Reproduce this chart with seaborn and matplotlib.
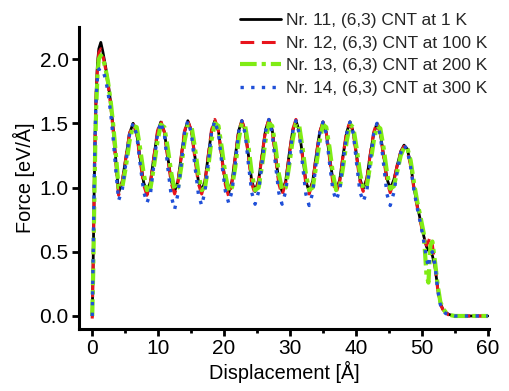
import pandas as pd
import seaborn as sns
import matplotlib as mpl
import matplotlib.pyplot as plt
import numpy as np
mpl.use('Agg')


# displacement grid [Å], shared by all four runs
disp = [
    0.0, 0.15, 0.3, 0.45, 0.6, 0.8, 1.0, 1.3, 1.6, 2.0, 2.4, 2.8, 3.2, 3.6,
    4.0, 4.55, 5.1, 5.65, 6.2,
    6.75, 7.25, 7.8, 8.3,
    8.85, 9.35, 9.9, 10.4,
    10.95, 11.45, 12.0, 12.5,
    13.0, 13.5, 14.0, 14.5,
    15.05, 15.55, 16.1, 16.6,
    17.1, 17.6, 18.1, 18.6,
    19.15, 19.65, 20.2, 20.7,
    21.2, 21.7, 22.2, 22.7,
    23.2, 23.7, 24.2, 24.7,
    25.25, 25.75, 26.3, 26.8,
    27.3, 27.8, 28.3, 28.8,
    29.35, 29.85, 30.4, 30.9,
    31.4, 31.9, 32.4, 32.9,
    33.45, 33.95, 34.5, 35.0,
    35.5, 36.0, 36.5, 37.0,
    37.55, 38.05, 38.6, 39.1,
    39.6, 40.1, 40.6, 41.1,
    41.65, 42.15, 42.7, 43.2,
    43.7, 44.2, 44.7, 45.2,
    45.75, 46.25, 46.8, 47.3,
    47.8, 48.3, 48.8, 49.3, 49.8, 50.3, 50.7, 51.0, 51.3, 51.6, 52.0, 52.4,
    52.8, 53.2, 53.6, 54.0, 54.5, 55.0, 56.0, 57.0, 58.0, 59.0, 60.0]

force_1K = [
    0.0, 0.45, 1.0, 1.45, 1.75, 1.97, 2.08, 2.13, 2.06, 1.95, 1.82, 1.66, 1.45, 1.20,
    0.96, 1.05, 1.23, 1.42, 1.50,
    1.42, 1.23, 1.04, 0.96,
    1.05, 1.24, 1.43, 1.51,
    1.43, 1.24, 1.05, 0.97,
    1.05, 1.24, 1.43, 1.52,
    1.44, 1.25, 1.05, 0.97,
    1.05, 1.25, 1.44, 1.52,
    1.44, 1.24, 1.04, 0.96,
    1.05, 1.24, 1.44, 1.52,
    1.44, 1.25, 1.05, 0.97,
    1.06, 1.25, 1.45, 1.53,
    1.45, 1.25, 1.05, 0.97,
    1.05, 1.25, 1.44, 1.52,
    1.44, 1.25, 1.05, 0.97,
    1.05, 1.24, 1.43, 1.51,
    1.43, 1.24, 1.06, 0.98,
    1.06, 1.25, 1.43, 1.51,
    1.43, 1.25, 1.07, 0.99,
    1.07, 1.25, 1.42, 1.50,
    1.42, 1.25, 1.07, 0.99,
    1.06, 1.17, 1.28, 1.33,
    1.30, 1.18, 1.00, 0.86, 0.74, 0.62, 0.54, 0.51, 0.50, 0.47, 0.38, 0.22,
    0.10, 0.05, 0.03, 0.015, 0.005, 0.0, 0.0, 0.0, 0.0, 0.0, 0.0]

force_100K = [
    -0.02, 0.42, 0.98, 1.43, 1.73, 1.94, 2.05, 2.08, 2.03, 1.93, 1.80, 1.64, 1.43, 1.18,
    0.94, 1.04, 1.23, 1.42, 1.50,
    1.42, 1.22, 1.02, 0.94,
    1.04, 1.24, 1.44, 1.52,
    1.43, 1.23, 1.03, 0.95,
    1.04, 1.24, 1.44, 1.52,
    1.44, 1.24, 1.03, 0.95,
    1.04, 1.25, 1.45, 1.53,
    1.44, 1.23, 1.02, 0.93,
    1.04, 1.24, 1.44, 1.52,
    1.44, 1.24, 1.03, 0.95,
    1.05, 1.25, 1.45, 1.53,
    1.44, 1.24, 1.03, 0.94,
    1.04, 1.24, 1.45, 1.53,
    1.44, 1.24, 1.03, 0.95,
    1.04, 1.24, 1.43, 1.51,
    1.43, 1.23, 1.04, 0.96,
    1.05, 1.25, 1.44, 1.51,
    1.43, 1.24, 1.05, 0.97,
    1.06, 1.25, 1.43, 1.51,
    1.42, 1.24, 1.05, 0.96,
    1.05, 1.17, 1.28, 1.32,
    1.29, 1.17, 0.99, 0.85, 0.73, 0.61, 0.55, 0.58, 0.62, 0.55, 0.40, 0.21,
    0.09, 0.05, 0.03, 0.01, 0.005, 0.0, 0.0, 0.0, 0.0, 0.0, 0.0]

force_200K = [
    0.0, 0.35, 0.85, 1.30, 1.62, 1.88, 2.00, 2.03, 2.01, 1.93, 1.82, 1.67, 1.48, 1.25,
    1.00, 1.00, 1.16, 1.36, 1.48,
    1.47, 1.31, 1.11, 0.98,
    1.00, 1.16, 1.36, 1.49,
    1.47, 1.31, 1.11, 0.98,
    1.00, 1.16, 1.36, 1.49,
    1.48, 1.32, 1.11, 0.98,
    1.00, 1.16, 1.37, 1.50,
    1.48, 1.31, 1.10, 0.97,
    1.00, 1.16, 1.37, 1.50,
    1.48, 1.32, 1.11, 0.98,
    1.00, 1.17, 1.37, 1.50,
    1.48, 1.32, 1.11, 0.98,
    1.00, 1.16, 1.37, 1.50,
    1.48, 1.31, 1.11, 0.98,
    1.00, 1.16, 1.36, 1.49,
    1.47, 1.31, 1.11, 0.98,
    1.00, 1.16, 1.36, 1.49,
    1.47, 1.31, 1.12, 0.99,
    1.01, 1.17, 1.36, 1.48,
    1.46, 1.31, 1.12, 0.99,
    1.01, 1.12, 1.25, 1.31,
    1.31, 1.21, 1.04, 0.89, 0.77, 0.64, 0.32, 0.26, 0.55, 0.58, 0.42, 0.24,
    0.11, 0.06, 0.03, 0.015, 0.005, 0.0, 0.0, 0.0, 0.0, 0.0, 0.0]

force_300K = [
    0.0, 0.50, 1.05, 1.45, 1.70, 1.86, 1.92, 1.93, 1.91, 1.85, 1.74, 1.58, 1.37, 1.12,
    0.90, 0.98, 1.19, 1.41, 1.50,
    1.41, 1.19, 0.97, 0.88,
    0.96, 1.18, 1.42, 1.51,
    1.41, 1.16, 0.93, 0.83,
    0.95, 1.18, 1.43, 1.52,
    1.42, 1.18, 0.95, 0.86,
    0.97, 1.19, 1.43, 1.52,
    1.42, 1.19, 0.97, 0.88,
    0.97, 1.19, 1.43, 1.52,
    1.42, 1.18, 0.96, 0.87,
    0.97, 1.19, 1.44, 1.53,
    1.42, 1.18, 0.96, 0.87,
    0.97, 1.19, 1.43, 1.52,
    1.42, 1.18, 0.95, 0.86,
    0.96, 1.19, 1.42, 1.51,
    1.42, 1.19, 0.98, 0.90,
    0.98, 1.20, 1.42, 1.51,
    1.42, 1.19, 0.97, 0.89,
    0.97, 1.19, 1.42, 1.50,
    1.41, 1.18, 0.95, 0.86,
    0.96, 1.12, 1.27, 1.33,
    1.29, 1.16, 0.98, 0.84, 0.72, 0.58, 0.45, 0.38, 0.48, 0.50, 0.40, 0.20,
    0.09, 0.04, 0.02, 0.01, 0.005, 0.0, 0.0, 0.0, 0.0, 0.0, 0.0]

labels = [
    'Nr. 11, (6,3) CNT at 1 K',
    'Nr. 12, (6,3) CNT at 100 K',
    'Nr. 13, (6,3) CNT at 200 K',
    'Nr. 14, (6,3) CNT at 300 K']


def saveplot(path):
    sns.set_style('ticks')
    plt.rcParams['font.family'] = ['Liberation Sans', 'DejaVu Sans']
    plt.rcParams['axes.unicode_minus'] = False

    f, ax = plt.subplots(figsize=(5.1, 3.91), dpi=100)
    f.subplots_adjust(left=0.155, bottom=0.159, right=0.959, top=0.931)

    styles = [
        dict(color='black', linewidth=2.0, linestyle='-'),
        dict(color='#e8141c', linewidth=2.2, linestyle=(0, (4.5, 2.5))),
        dict(color='#80ec14', linewidth=3.0, linestyle=(0, (4.0, 1.2, 1.0, 1.2))),
        dict(color='#2050d8', linewidth=2.4, linestyle=(0, (1.0, 2.2))),
    ]
    series = [force_1K, force_100K, force_200K, force_300K]
    for y, lab, st in zip(series, labels, styles):
        sns.lineplot(x=disp, y=y, ax=ax, label=lab, sort=False,
                     estimator=None, **st)

    ax.set_xlim(-2, 60.2)
    ax.set_ylim(-0.1, 2.25)
    ax.set_xticks([0, 10, 20, 30, 40, 50, 60])
    ax.set_xticks([5, 15, 25, 35, 45, 55], minor=True)
    ax.set_yticks([0.0, 0.5, 1.0, 1.5, 2.0])
    ax.set_yticklabels(['0.0', '0.5', '1.0', '1.5', '2.0'])
    ax.tick_params(axis='both', which='major', direction='out', length=5,
                   width=2, labelsize=15, color='black', labelcolor='black',
                   pad=2.5)
    ax.tick_params(axis='x', which='minor', direction='out', length=3,
                   width=2, color='black')

    for side in ['left', 'bottom']:
        ax.spines[side].set_linewidth(2.2)
        ax.spines[side].set_color('black')
    sns.despine(ax=ax)

    ax.set_xlabel('Displacement [Å]', fontsize=14.3, color='black', labelpad=2)
    ax.set_ylabel('Force [eV/Å]', fontsize=14.3, color='black', labelpad=3)

    ax.legend(loc='upper right', bbox_to_anchor=(0.969, 0.985),
              bbox_transform=f.transFigure, frameon=False, fontsize=12.5,
              handlelength=2.35, handletextpad=0.3, labelspacing=0.43,
              borderaxespad=0.0)

    f.savefig(path, dpi=100)


saveplot('out.png')
